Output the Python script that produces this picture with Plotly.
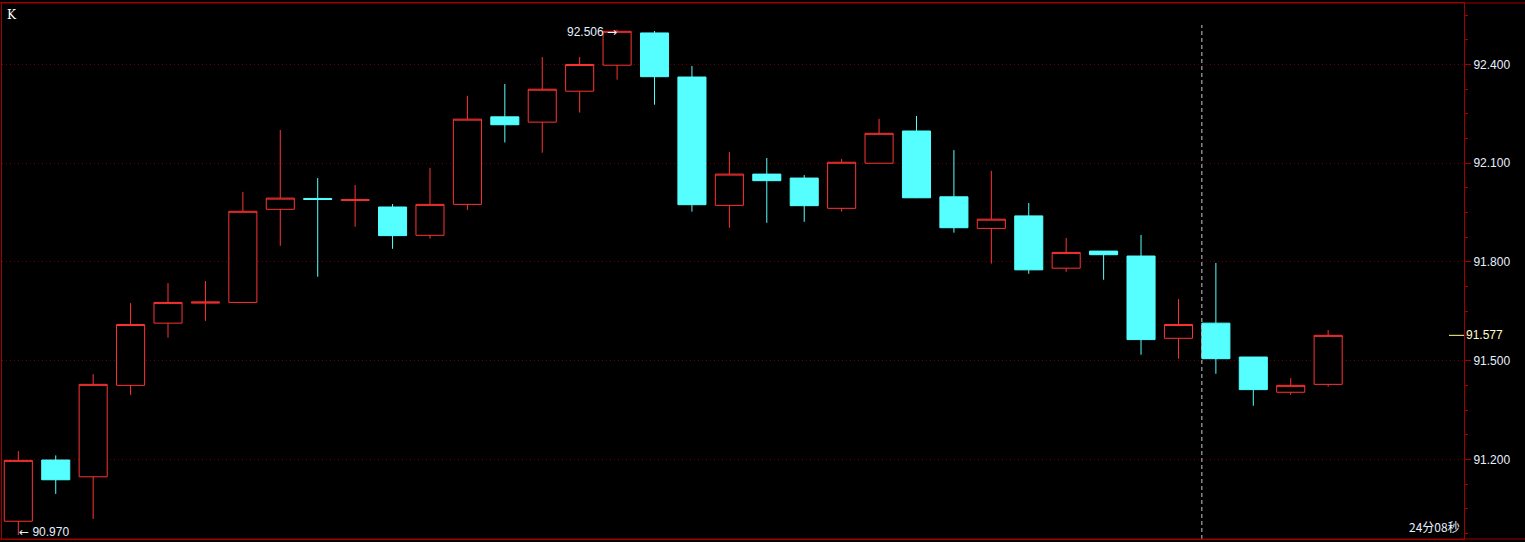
"""K线图：红色空心阳线，青色实心阴线。"""

import plotly.graph_objects as go

# OHLC 数据（按时间顺序，36 根 K 线）
OPEN = [91.012, 91.198, 91.147, 91.425, 91.614, 91.675, 91.677, 91.960, 91.993, 91.987,
        91.967, 91.881, 91.975, 92.241, 92.225, 92.319, 92.398, 92.496, 92.362, 91.972,
        92.067, 92.055, 91.963, 92.100, 92.198, 91.998, 91.902, 91.940, 91.781, 91.833,
        91.818, 91.568, 91.614, 91.511, 91.404, 91.428]
HIGH = [91.225, 91.212, 91.459, 91.675, 91.736, 91.742, 92.013, 92.201, 92.055, 92.034,
        91.976, 92.086, 92.305, 92.341, 92.423, 92.423, 92.506, 92.502, 92.396, 92.134,
        92.116, 92.064, 92.113, 92.235, 92.244, 92.140, 92.077, 91.979, 91.873, 91.833,
        91.882, 91.687, 91.797, 91.511, 91.447, 91.593]
LOW = [90.970, 91.095, 91.019, 91.396, 91.570, 91.621, 91.677, 91.849, 91.755, 91.907,
       91.840, 91.871, 91.958, 92.163, 92.132, 92.254, 92.354, 92.278, 91.953, 91.904,
       91.919, 91.922, 91.953, 92.099, 91.994, 91.889, 91.795, 91.764, 91.770, 91.746,
       91.518, 91.506, 91.460, 91.363, 91.396, 91.421]
CLOSE = [91.197, 91.138, 91.428, 91.610, 91.677, 91.678, 91.954, 91.994, 91.990, 91.989,
         91.880, 91.975, 92.234, 92.217, 92.325, 92.400, 92.501, 92.363, 91.974, 92.067,
         92.047, 91.971, 92.103, 92.191, 91.995, 91.904, 91.930, 91.776, 91.829, 91.822,
         91.564, 91.610, 91.506, 91.412, 91.425, 91.577]
IDX = list(range(len(CLOSE)))

TIMER_TEXT = "24分08秒"
CURSOR_BAR = 32  # 虚线光标所在的 K 线

W, H = 1525, 542
ML, MR, MT, MB = 2, 61, 3, 3
PW, PH = W - ML - MR, H - MT - MB

RED = "#ff3333"
CYAN = "#55ffff"
BORDER = "#a00000"
GRID = "#640000"
TXT = "#e6f0ff"
BOXGAP = 0.25
ARROW = '<span style="font-family:DejaVu Sans">{}</span>'

hi_i = max(IDX, key=lambda i: HIGH[i])
lo_i = min(IDX, key=lambda i: LOW[i])

fig = go.Figure()
fig.add_trace(
    go.Candlestick(
        x=IDX,
        open=OPEN,
        high=HIGH,
        low=LOW,
        close=CLOSE,
        increasing=dict(line=dict(color=RED, width=1), fillcolor="#000000"),
        decreasing=dict(line=dict(color=CYAN, width=1), fillcolor=CYAN),
        whiskerwidth=0,
        hoverinfo="skip",
        showlegend=False,
    )
)

# 最高 / 最低价标注
fig.add_annotation(
    x=hi_i, y=HIGH[hi_i], text=f"{HIGH[hi_i]:.3f} " + ARROW.format("→"), showarrow=False,
    xanchor="right", yanchor="middle", xshift=2, yshift=-2,
    font=dict(family="Liberation Sans", size=12, color=TXT),
)
fig.add_annotation(
    x=lo_i, y=LOW[lo_i], text=ARROW.format("←") + f" {LOW[lo_i]:.3f}", showarrow=False,
    xanchor="left", yanchor="middle", xshift=-1, yshift=3,
    font=dict(family="Liberation Sans", size=12, color=TXT),
)

# 最新价
fig.add_shape(
    type="line", xref="paper", yref="y", x0=1 - 15 / PW, x1=1,
    y0=CLOSE[-1], y1=CLOSE[-1], line=dict(color="#ffff88", width=1),
)
fig.add_annotation(
    xref="paper", x=1, y=CLOSE[-1], text=f"{CLOSE[-1]:.3f}", showarrow=False,
    xanchor="left", yanchor="middle", xshift=0,
    font=dict(family="Liberation Sans", size=12, color="#ffffcc"),
)

# 光标虚线
cx = CURSOR_BAR - (1 - BOXGAP) / 2
fig.add_shape(
    type="line", xref="x", yref="paper", x0=cx, x1=cx, y0=0, y1=1 - 22 / PH,
    line=dict(color="#c8c8c8", width=1, dash="4px,3px"),
)

fig.add_annotation(
    xref="paper", yref="paper", x=0, y=1, text="K", showarrow=False,
    xanchor="left", yanchor="top", xshift=3, yshift=-3,
    font=dict(family="DejaVu Serif", size=12, color="#ffffff"),
)
fig.add_annotation(
    xref="paper", yref="paper", x=1, y=0, text=TIMER_TEXT, showarrow=False,
    xanchor="right", yanchor="bottom", xshift=-2, yshift=2,
    font=dict(family="Noto Sans CJK SC", size=12, color=TXT),
)

# 外框上下边
for yy in (1, 0):
    fig.add_shape(
        type="line", xref="paper", yref="paper", x0=-ML / PW, x1=1 + MR / PW,
        y0=yy, y1=yy, line=dict(color=BORDER, width=1),
    )

fig.update_layout(
    width=W,
    height=H,
    margin=dict(l=ML, r=MR, t=MT, b=MB),
    paper_bgcolor="#000000",
    plot_bgcolor="#000000",
    boxgap=BOXGAP,
    boxgroupgap=0,
    showlegend=False,
    xaxis=dict(
        range=[-0.436, 38.63],
        rangeslider=dict(visible=False),
        showgrid=False, zeroline=False, showticklabels=False, ticks="",
        showline=True, mirror=True, linecolor=BORDER, linewidth=1,
    ),
    yaxis=dict(
        side="right",
        range=[90.958, 92.587],
        tick0=91.2, dtick=0.3, tickformat=".3f",
        ticks="outside", ticklen=6, tickcolor=BORDER, tickwidth=1,
        tickfont=dict(family="Liberation Sans", size=12, color=TXT),
        showgrid=True, gridcolor=GRID, gridwidth=1, griddash="1px,3px",
        zeroline=False,
        showline=True, mirror=True, linecolor=BORDER, linewidth=1,
        minor=dict(tick0=91.2, dtick=0.075, ticks="outside", ticklen=3,
                   tickcolor=BORDER, showgrid=False),
    ),
)

fig.write_html(
    "out.html",
    config=dict(displayModeBar=False),
    post_script="document.body.style.margin='0';",
)
